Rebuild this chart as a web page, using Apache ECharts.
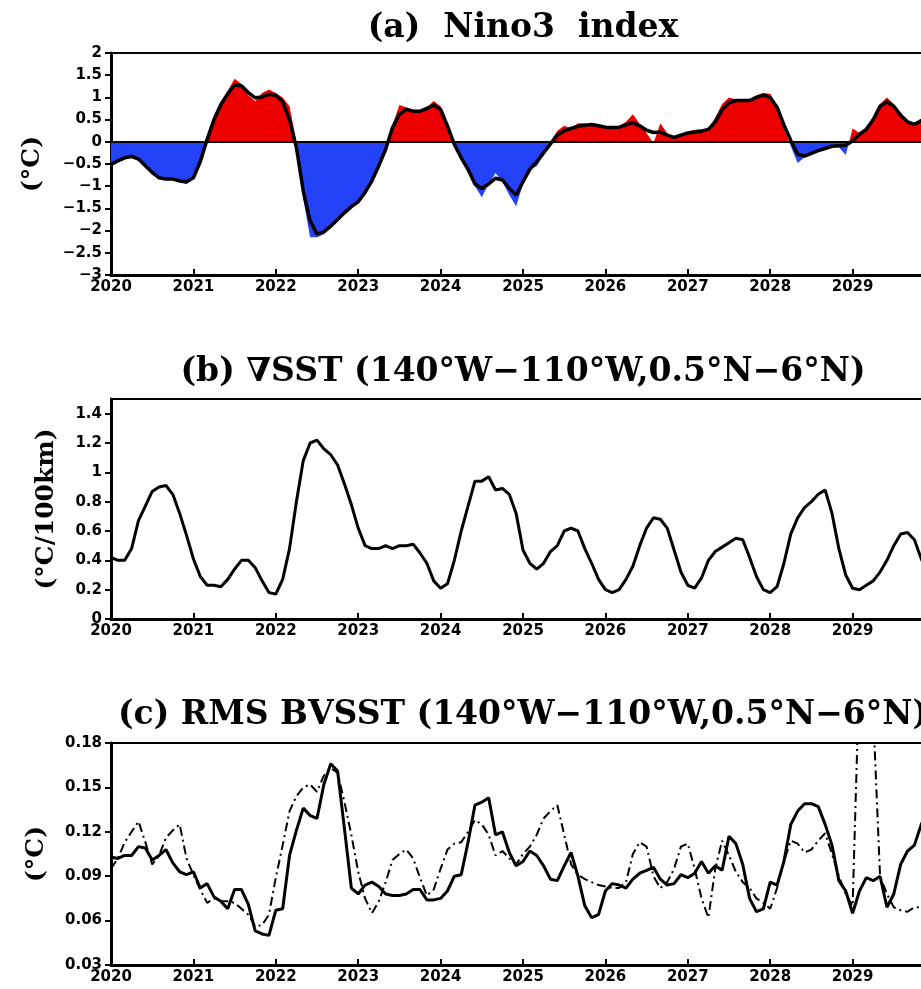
<!DOCTYPE html>
<html>
<head>
<meta charset="utf-8">
<script src="https://cdn.jsdelivr.net/npm/echarts@6/dist/echarts.min.js"></script>
<style>
  html, body { margin: 0; padding: 0; background: #fff; }
  #chart { width: 921px; height: 989px; }
</style>
</head>
<body>
<div id="chart"></div>
<script>
// monthly series, Jan 2020 onwards
const YEAR0 = 2020;

// (a) Nino3 index: raw monthly (shaded) and smoothed (black line)
const nino3Raw = [
  -0.56, -0.44, -0.38, -0.31, -0.42, -0.55, -0.74, -0.84, -0.84, -0.86, -0.92, -0.95,
  -0.84, -0.40, 0.15, 0.60, 0.90, 1.15, 1.42, 1.30, 1.05, 0.92, 1.10, 1.18,
  1.10, 1.00, 0.80, 0.00, -1.30, -2.15, -2.15, -2.08, -1.93, -1.80, -1.62, -1.50,
  -1.36, -1.12, -0.85, -0.55, -0.20, 0.38, 0.83, 0.78, 0.72, 0.70, 0.78, 0.92,
  0.80, 0.30, -0.10, -0.42, -0.70, -1.00, -1.25, -0.95, -0.70, -0.90, -1.20, -1.45,
  -0.95, -0.60, -0.55, -0.30, 0.00, 0.25, 0.36, 0.30, 0.42, 0.42, 0.40, 0.35,
  0.36, 0.34, 0.35, 0.45, 0.62, 0.40, 0.20, -0.03, 0.42, 0.20, 0.08, 0.12,
  0.22, 0.27, 0.28, 0.30, 0.55, 0.85, 1.00, 0.95, 0.92, 0.95, 1.05, 1.10,
  1.08, 0.80, 0.30, -0.10, -0.48, -0.35, -0.28, -0.22, -0.15, -0.10, -0.12, -0.30,
  0.30, 0.20, 0.32, 0.55, 0.85, 1.00, 0.85, 0.62, 0.45, 0.35, 0.50, 0.60
];
const nino3Smooth = [
  -0.51, -0.43, -0.36, -0.33, -0.39, -0.54, -0.69, -0.81, -0.84, -0.84, -0.88, -0.90,
  -0.81, -0.45, 0.05, 0.50, 0.84, 1.08, 1.28, 1.26, 1.11, 0.99, 1.01, 1.07,
  1.05, 0.90, 0.50, -0.13, -1.11, -1.78, -2.08, -2.03, -1.90, -1.75, -1.60, -1.46,
  -1.35, -1.14, -0.88, -0.54, -0.17, 0.32, 0.62, 0.73, 0.69, 0.69, 0.75, 0.83,
  0.73, 0.36, -0.06, -0.36, -0.62, -0.95, -1.05, -0.95, -0.82, -0.86, -1.05, -1.20,
  -0.90, -0.62, -0.45, -0.25, -0.05, 0.15, 0.25, 0.30, 0.35, 0.37, 0.39, 0.36,
  0.33, 0.32, 0.33, 0.38, 0.43, 0.36, 0.26, 0.21, 0.22, 0.15, 0.10, 0.15,
  0.20, 0.22, 0.24, 0.28, 0.45, 0.72, 0.88, 0.93, 0.93, 0.93, 1.00, 1.05,
  1.00, 0.78, 0.38, 0.03, -0.28, -0.32, -0.26, -0.20, -0.15, -0.10, -0.09, -0.08,
  0.02, 0.17, 0.28, 0.50, 0.80, 0.90, 0.80, 0.60, 0.45, 0.39, 0.48, 0.55
];

// (b) SST gradient (degC/100km)
const sstGrad = [
  0.42, 0.40, 0.40, 0.48, 0.67, 0.77, 0.87, 0.90, 0.91, 0.85, 0.72, 0.57,
  0.41, 0.29, 0.23, 0.23, 0.22, 0.27, 0.34, 0.40, 0.40, 0.35, 0.26, 0.18,
  0.17, 0.27, 0.48, 0.80, 1.08, 1.20, 1.22, 1.16, 1.12, 1.05, 0.92, 0.78,
  0.62, 0.50, 0.48, 0.48, 0.50, 0.48, 0.50, 0.50, 0.51, 0.45, 0.38, 0.26,
  0.21, 0.24, 0.40, 0.60, 0.77, 0.94, 0.94, 0.97, 0.88, 0.89, 0.85, 0.72,
  0.47, 0.38, 0.34, 0.38, 0.46, 0.50, 0.60, 0.62, 0.60, 0.48, 0.38, 0.27,
  0.20, 0.18, 0.20, 0.27, 0.36, 0.50, 0.62, 0.69, 0.68, 0.62, 0.47, 0.32,
  0.23, 0.21, 0.28, 0.40, 0.46, 0.49, 0.52, 0.55, 0.54, 0.42, 0.29, 0.20,
  0.18, 0.22, 0.38, 0.58, 0.69, 0.76, 0.80, 0.85, 0.88, 0.72, 0.48, 0.30,
  0.21, 0.20, 0.23, 0.26, 0.32, 0.40, 0.50, 0.58, 0.59, 0.54, 0.41, 0.30
];

// (c) RMS BVSST (degC): solid and dash-dot curves
const rmsSolid = [
  0.103, 0.102, 0.104, 0.104, 0.110, 0.109, 0.101, 0.104, 0.108, 0.099, 0.093, 0.091,
  0.093, 0.082, 0.085, 0.076, 0.073, 0.068, 0.081, 0.081, 0.071, 0.053, 0.051, 0.050,
  0.067, 0.068, 0.104, 0.121, 0.136, 0.131, 0.129, 0.152, 0.166, 0.161, 0.122, 0.082,
  0.078, 0.084, 0.086, 0.083, 0.078, 0.077, 0.077, 0.078, 0.081, 0.081, 0.074, 0.074,
  0.075, 0.080, 0.090, 0.091, 0.113, 0.138, 0.140, 0.143, 0.118, 0.120, 0.106, 0.097,
  0.100, 0.107, 0.104, 0.097, 0.088, 0.087, 0.097, 0.106, 0.090, 0.070, 0.062, 0.064,
  0.080, 0.085, 0.084, 0.082, 0.088, 0.092, 0.094, 0.096, 0.088, 0.084, 0.085, 0.091,
  0.089, 0.092, 0.100, 0.092, 0.097, 0.094, 0.117, 0.112, 0.098, 0.075, 0.066, 0.068,
  0.086, 0.084, 0.100, 0.125, 0.134, 0.139, 0.139, 0.137, 0.125, 0.111, 0.087, 0.080,
  0.065, 0.080, 0.089, 0.087, 0.090, 0.069, 0.078, 0.098, 0.107, 0.111, 0.125, 0.135
];
const rmsDashDot = [
  0.095, 0.102, 0.113, 0.120, 0.127, 0.113, 0.098, 0.104, 0.116, 0.121, 0.125, 0.102,
  0.091, 0.081, 0.072, 0.075, 0.073, 0.073, 0.072, 0.068, 0.064, 0.056, 0.057, 0.064,
  0.089, 0.111, 0.134, 0.144, 0.150, 0.152, 0.147, 0.158, 0.163, 0.160, 0.140, 0.118,
  0.093, 0.075, 0.065, 0.073, 0.086, 0.101, 0.105, 0.108, 0.102, 0.089, 0.077, 0.081,
  0.095, 0.108, 0.112, 0.113, 0.120, 0.128, 0.125, 0.118, 0.104, 0.107, 0.102, 0.098,
  0.105, 0.110, 0.118, 0.129, 0.134, 0.138, 0.118, 0.098, 0.091, 0.088, 0.086, 0.084,
  0.083, 0.082, 0.082, 0.086, 0.105, 0.113, 0.110, 0.090, 0.082, 0.086, 0.095, 0.110,
  0.112, 0.095, 0.075, 0.062, 0.095, 0.114, 0.104, 0.093, 0.086, 0.082, 0.075, 0.072,
  0.068, 0.082, 0.100, 0.114, 0.112, 0.106, 0.108, 0.114, 0.119, 0.105, 0.090, 0.078,
  0.070, 0.230, 0.240, 0.200, 0.090, 0.078, 0.069, 0.067, 0.066, 0.069, 0.069, 0.070
];

const titles = [
  '(a)  Nino3  index',
  '(b) \u2207SST (140\u00b0W\u2212110\u00b0W,0.5\u00b0N\u22126\u00b0N)',
  '(c) RMS BVSST (140\u00b0W\u2212110\u00b0W,0.5\u00b0N\u22126\u00b0N)'
];
const yNames = ['(\u00b0C)', '(\u00b0C/100km)', '(\u00b0C)'];

function toXY(arr) {
    return arr.map((v, i) => [YEAR0 + i / 12, v]);
}

// red above zero, blue below: hard colour stop at the zero level of the area's box
function signFill(arr) {
    const hi = Math.max(0, ...arr);
    const lo = Math.min(0, ...arr);
    const f = hi / (hi - lo);
    return new echarts.graphic.LinearGradient(0, 0, 0, 1, [
        { offset: 0, color: '#ee0000' },
        { offset: f, color: '#ee0000' },
        { offset: f, color: '#2442f8' },
        { offset: 1, color: '#2442f8' }
    ]);
}

const chart = echarts.init(document.getElementById('chart'));

const tickFont = { fontFamily: 'DejaVu Sans', fontWeight: 'bold', fontSize: 15, color: '#000' };
const gridTops = [53, 399, 743];
const gridHeights = [222, 220, 222];
const titleY = [28, 372, 715];
const nameGaps = [66, 52, 62];

const yRanges = [
    { min: -3, max: 2, interval: 0.5 },
    { min: 0, max: 1.5, interval: 0.2 },
    { min: 0.03, max: 0.18, interval: 0.03 }
];

const grids = gridTops.map((top, i) => ({
    left: 111,
    top: top,
    width: 824,
    height: gridHeights[i],
    outerBoundsMode: 'none',
    containLabel: false,
    show: true,
    borderColor: '#000',
    borderWidth: 2,
    backgroundColor: 'transparent'
}));

const xAxes = gridTops.map((_, i) => ({
    type: 'value',
    gridIndex: i,
    min: 2020,
    max: 2030,
    interval: 1,
    axisLine: { onZero: false, lineStyle: { color: '#000', width: 3 } },
    axisTick: { inside: true, length: 6, lineStyle: { color: '#000', width: 2 } },
    axisLabel: Object.assign({ margin: 5, showMaxLabel: false, formatter: v => String(v) }, tickFont),
    splitLine: { show: false }
}));

// zero line of panel (a): a bare axis line sitting on y = 0
xAxes.push({
    type: 'value',
    gridIndex: 0,
    min: 2020,
    max: 2030,
    position: 'bottom',
    axisLine: { onZero: true, lineStyle: { color: '#000', width: 2 } },
    axisTick: { show: false },
    axisLabel: { show: false },
    splitLine: { show: false },
    z: 5
});

const yAxes = yRanges.map((r, i) => ({
    type: 'value',
    gridIndex: i,
    min: r.min,
    max: r.max,
    interval: r.interval,
    name: yNames[i],
    nameLocation: 'middle',
    nameRotate: 90,
    nameGap: nameGaps[i],
    nameTextStyle: { fontFamily: 'DejaVu Serif', fontWeight: 'bold', fontSize: 25, color: '#000' },
    axisLine: { onZero: false, lineStyle: { color: '#000', width: 3 } },
    axisTick: { inside: false, length: 6, lineStyle: { color: '#000', width: 2 } },
    axisLabel: Object.assign({
        margin: 9,
        showMaxLabel: i !== 1,
        formatter: v => String(+v.toFixed(2)).replace('-', '\u2212')
    }, tickFont),
    splitLine: { show: false }
}));

const option = {
    backgroundColor: '#fff',
    animation: false,
    grid: grids,
    xAxis: xAxes,
    yAxis: yAxes,
    graphic: titles.map((t, i) => ({
        type: 'text',
        x: 523,
        y: titleY[i],
        style: {
            text: t,
            align: 'center',
            verticalAlign: 'middle',
            font: 'bold 33px "DejaVu Serif"',
            fill: '#000'
        }
    })),
    series: [
        {
            name: 'Nino3 raw',
            type: 'line',
            xAxisIndex: 0,
            yAxisIndex: 0,
            data: toXY(nino3Raw),
            showSymbol: false,
            lineStyle: { width: 0 },
            itemStyle: { color: '#ee0000' },
            areaStyle: { opacity: 1, origin: 0, color: signFill(nino3Raw) },
            silent: true
        },
        {
            name: 'Nino3 smoothed',
            type: 'line',
            xAxisIndex: 0,
            yAxisIndex: 0,
            data: toXY(nino3Smooth),
            showSymbol: false,
            z: 6,
            lineStyle: { color: '#000', width: 3.5 },
            itemStyle: { color: '#000' }
        },
        {
            name: 'SST gradient',
            type: 'line',
            xAxisIndex: 1,
            yAxisIndex: 1,
            data: toXY(sstGrad),
            showSymbol: false,
            lineStyle: { color: '#000', width: 3 },
            itemStyle: { color: '#000' }
        },
        {
            name: 'RMS solid',
            type: 'line',
            xAxisIndex: 2,
            yAxisIndex: 2,
            data: toXY(rmsSolid),
            showSymbol: false,
            lineStyle: { color: '#000', width: 3 },
            itemStyle: { color: '#000' }
        },
        {
            name: 'RMS dash-dot',
            type: 'line',
            xAxisIndex: 2,
            yAxisIndex: 2,
            data: toXY(rmsDashDot),
            showSymbol: false,
            clip: true,
            lineStyle: { color: '#000', width: 2, type: [9, 4, 2, 4] },
            itemStyle: { color: '#000' }
        }
    ]
};

chart.setOption(option);
</script>
</body>
</html>
